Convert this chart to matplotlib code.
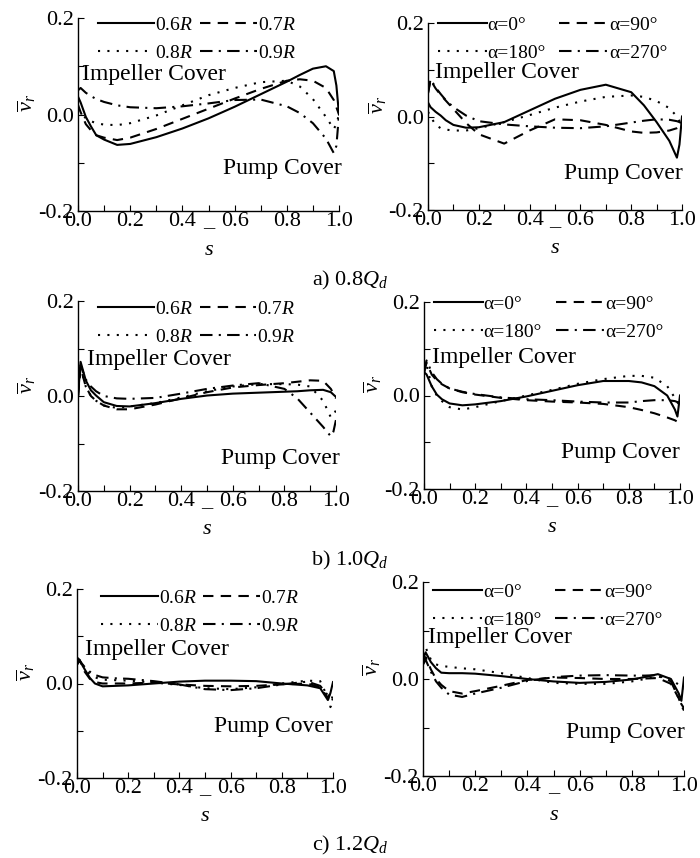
import matplotlib
matplotlib.use("Agg")
import matplotlib.pyplot as plt

plt.rcParams['font.family'] = ['Liberation Serif', 'DejaVu Serif']
plt.rcParams['mathtext.fontset'] = 'custom'
plt.rcParams['mathtext.rm'] = 'Liberation Serif'
plt.rcParams['mathtext.it'] = 'Liberation Serif:italic'
plt.rcParams['mathtext.bf'] = 'Liberation Serif:bold'

# ---------------- data ----------------
s_pos = [0, 0.01, 0.03, 0.05, 0.07, 0.1, 0.15, 0.2, 0.3, 0.4, 0.5, 0.6, 0.7,
         0.8, 0.85, 0.9, 0.95, 0.98, 0.99, 1.0]

radial_labels = ["0.6$R$", "0.7$R$", "0.8$R$", "0.9$R$"]
circ_labels = ["α=0°", "α=90°", "α=180°", "α=270°"]
case_labels = ["a) 0.8$Q_d$", "b) 1.0$Q_d$", "c) 1.2$Q_d$"]

x_ticks = [0.0, 0.2, 0.4, 0.5, 0.6, 0.8, 1.0]
x_ticklabels = ["0.0", "0.2", "0.4", "_", "0.6", "0.8", "1.0"]
y_ticks = [-0.2, 0.0, 0.2]
y_ticklabels = ["-0.2", "0.0", "0.2"]

# 0.8 Qd, radial positions
q08_r06 = [0.037, 0.025, -0.005, -0.025, -0.043, -0.052, -0.063, -0.061, -0.047, -0.029, -0.008, 0.016, 0.042, 0.068, 0.082, 0.095, 0.100, 0.090, 0.060, 0.0]
q08_r07 = [0.020, 0.005, -0.020, -0.033, -0.043, -0.048, -0.053, -0.048, -0.030, -0.009, 0.012, 0.033, 0.053, 0.070, 0.073, 0.070, 0.055, 0.030, 0.015, 0.0]
q08_r08 = [0.010, 0.005, -0.008, -0.014, -0.018, -0.021, -0.022, -0.018, -0.002, 0.019, 0.040, 0.055, 0.067, 0.070, 0.058, 0.032, -0.005, -0.030, -0.020, 0.0]
q08_r09 = [0.050, 0.055, 0.045, 0.038, 0.032, 0.026, 0.019, 0.015, 0.013, 0.017, 0.023, 0.030, 0.031, 0.017, 0.003, -0.018, -0.050, -0.080, -0.065, 0.0]
# 0.8 Qd, circumferential positions
q08_a0 = [0.030, 0.020, 0.010, 0.002, -0.008, -0.018, -0.024, -0.023, -0.012, 0.013, 0.038, 0.057, 0.068, 0.052, 0.024, -0.012, -0.052, -0.088, -0.060, 0.0]
q08_a90 = [0.050, 0.078, 0.060, 0.046, 0.034, 0.016, -0.014, -0.038, -0.058, -0.030, -0.006, -0.008, -0.018, -0.032, -0.035, -0.034, -0.030, -0.025, -0.022, -0.020]
q08_a180 = [0.010, 0.0, -0.018, -0.025, -0.028, -0.030, -0.030, -0.025, -0.012, 0.003, 0.019, 0.032, 0.042, 0.045, 0.042, 0.033, 0.018, 0.0, -0.010, -0.020]
q08_a270 = [0.050, 0.080, 0.062, 0.048, 0.035, 0.020, 0.002, -0.010, -0.017, -0.021, -0.024, -0.025, -0.021, -0.013, -0.009, -0.006, -0.007, -0.010, -0.012, -0.015]

# 1.0 Qd, radial positions
q10_r06 = [0.0, 0.072, 0.033, 0.012, 0.001, -0.013, -0.021, -0.022, -0.015, -0.006, 0.001, 0.005, 0.007, 0.009, 0.010, 0.012, 0.013, 0.008, 0.003, -0.002]
q10_r07 = [0.0, 0.060, 0.020, 0.0, -0.010, -0.020, -0.028, -0.028, -0.018, -0.005, 0.008, 0.018, 0.023, 0.027, 0.030, 0.033, 0.032, 0.015, 0.005, -0.005]
q10_r08 = [0.0, 0.060, 0.020, 0.0, -0.010, -0.020, -0.025, -0.022, -0.015, -0.003, 0.010, 0.020, 0.025, 0.025, 0.024, 0.020, -0.010, -0.045, -0.040, -0.030]
q10_r09 = [0.0, 0.065, 0.035, 0.020, 0.010, 0.0, -0.005, -0.006, -0.004, 0.005, 0.015, 0.022, 0.027, 0.015, -0.005, -0.035, -0.065, -0.085, -0.075, -0.050]
# 1.0 Qd, circumferential positions
q10_a0 = [0.050, 0.045, 0.020, 0.002, -0.008, -0.017, -0.021, -0.019, -0.012, -0.002, 0.010, 0.022, 0.031, 0.031, 0.028, 0.020, 0.0, -0.030, -0.045, 0.0]
q10_a90 = [0.050, 0.070, 0.045, 0.032, 0.024, 0.015, 0.007, 0.002, -0.005, -0.010, -0.013, -0.015, -0.018, -0.025, -0.031, -0.038, -0.047, -0.053, -0.056, -0.058]
q10_a180 = [0.050, 0.065, 0.020, 0.0, -0.012, -0.025, -0.030, -0.025, -0.012, 0.0, 0.012, 0.025, 0.035, 0.042, 0.042, 0.038, 0.020, -0.005, -0.015, -0.020]
q10_a270 = [0.050, 0.075, 0.050, 0.035, 0.025, 0.015, 0.008, 0.003, -0.004, -0.008, -0.010, -0.013, -0.015, -0.015, -0.012, -0.010, -0.010, -0.012, -0.014, -0.015]

# 1.2 Qd, radial positions
q12_r06 = [0.055, 0.050, 0.030, 0.012, 0.0, -0.006, -0.005, -0.004, 0.0, 0.004, 0.006, 0.006, 0.005, 0.0, -0.002, -0.004, -0.010, -0.035, -0.020, 0.003]
q12_r07 = [0.040, 0.050, 0.025, 0.010, 0.003, 0.0, 0.0, 0.0, 0.002, -0.002, -0.005, -0.006, -0.005, -0.002, -0.001, 0.0, -0.008, -0.030, -0.020, -0.010]
q12_r08 = [0.045, 0.050, 0.030, 0.020, 0.013, 0.008, 0.007, 0.006, 0.002, -0.003, -0.010, -0.012, -0.008, 0.0, 0.003, 0.006, 0.005, -0.030, -0.050, -0.020]
q12_r09 = [0.040, 0.048, 0.035, 0.025, 0.018, 0.013, 0.011, 0.010, 0.005, -0.002, -0.012, -0.014, -0.010, -0.002, 0.001, 0.004, -0.005, -0.025, -0.030, -0.035]
# 1.2 Qd, circumferential positions
q12_a0 = [0.040, 0.055, 0.035, 0.022, 0.013, 0.012, 0.012, 0.011, 0.006, 0.0, -0.005, -0.008, -0.006, -0.001, 0.004, 0.010, 0.0, -0.030, -0.045, 0.003]
q12_a90 = [0.030, 0.045, 0.020, 0.0, -0.012, -0.025, -0.030, -0.025, -0.014, -0.002, 0.003, 0.002, 0.0, 0.0, 0.001, 0.002, -0.010, -0.040, -0.055, -0.065]
q12_a180 = [0.050, 0.065, 0.040, 0.030, 0.027, 0.025, 0.022, 0.020, 0.012, 0.002, -0.008, -0.010, -0.010, -0.005, 0.0, 0.005, 0.0, -0.012, -0.017, -0.020]
q12_a270 = [0.030, 0.040, 0.015, -0.005, -0.018, -0.032, -0.037, -0.030, -0.018, -0.004, 0.004, 0.007, 0.008, 0.007, 0.007, 0.008, -0.005, -0.040, -0.052, -0.060]

panels = [
    [(q08_r06, q08_r07, q08_r08, q08_r09), (q08_a0, q08_a90, q08_a180, q08_a270)],
    [(q10_r06, q10_r07, q10_r08, q10_r09), (q10_a0, q10_a90, q10_a180, q10_a270)],
    [(q12_r06, q12_r07, q12_r08, q12_r09), (q12_a0, q12_a90, q12_a180, q12_a270)],
]

# ---------------- layout / style ----------------
W, H = 700, 858
fig = plt.figure(figsize=(7, 8.58), dpi=100)

# axes boxes in pixels: (left, top, right, bottom)
boxes = [
    [(78, 18, 339, 211), (428, 23, 682, 210)],
    [(78, 301, 336, 491), (424, 302, 680, 489)],
    [(77, 589, 333, 778), (423, 582, 684, 776)],
]
# legend anchor (axes fraction)
leg_anchor = [[(0.077, 1.010), (0.039, 1.037)],
              [(0.077, 1.005), (0.039, 1.037)],
              [(0.095, 1.000), (0.039, 0.995)]]
# annotation positions (data coords): impeller (x_left, y), pump (x_right, y)
imp_pos = [[(0.015, 0.082), (0.028, 0.095)],
           [(0.035, 0.076), (0.031, 0.082)],
           [(0.031, 0.071), (0.019, 0.085)]]
pump_pos = [[(1.01, -0.111), (1.004, -0.121)],
            [(1.016, -0.131), (1.0, -0.121)],
            [(1.0, -0.092), (1.004, -0.111)]]
caption_y = [280, 560, 845]

styles = ['-', (0, (5, 3.5)), (0, (1, 3.5)), (0, (6, 3, 1, 3))]
order = [0, 2, 1, 3]   # row-wise legend filling

for r in range(3):
    for c in range(2):
        l, t, rr, b = boxes[r][c]
        ax = fig.add_axes([l / W, 1 - b / H, (rr - l) / W, (b - t) / H])
        labels = radial_labels if c == 0 else circ_labels
        handles = []
        for k in range(4):
            h, = ax.plot(s_pos, panels[r][c][k], color='black', lw=1.5,
                         linestyle=styles[k], label=labels[k])
            handles.append(h)
        ax.set_xlim(0, 1.0)
        ax.set_ylim(-0.2, 0.2)
        for sp in ['top', 'right']:
            ax.spines[sp].set_visible(False)
        for sp in ['left', 'bottom']:
            ax.spines[sp].set_linewidth(1.0)
        ax.set_xticks([i / 10 for i in range(11)], minor=True)
        ax.set_xticks(x_ticks)
        ax.set_xticklabels(x_ticklabels)
        ax.set_yticks([-0.1, 0.1], minor=True)
        ax.set_yticks(y_ticks)
        ax.set_yticklabels(y_ticklabels)
        ax.tick_params(which='both', direction='in', length=4, width=0.8)
        ax.tick_params(axis='x', which='major', pad=1, labelsize=16)
        ax.tick_params(axis='y', which='major', pad=3, labelsize=16)
        ax.set_xlabel('$s$', fontsize=16)
        ax.xaxis.set_label_coords(0.5, -0.155)
        ax.set_ylabel(r'$\overline{v}_r$', fontsize=16)
        ax.yaxis.set_label_coords(-0.155, 0.56)
        hs = [handles[i] for i in order]
        ls = [labels[i] for i in order]
        if c == 0:
            ax.legend(hs, ls, ncol=2, frameon=False, loc='upper left',
                      bbox_to_anchor=leg_anchor[r][c], fontsize=14,
                      handlelength=2.9, handletextpad=0.05,
                      columnspacing=0.35, labelspacing=0.55,
                      borderpad=0, borderaxespad=0)
        else:
            ax.legend(hs, ls, ncol=2, frameon=False, loc='upper left',
                      bbox_to_anchor=leg_anchor[r][c], fontsize=14,
                      handlelength=2.5, handletextpad=0.05,
                      columnspacing=0.7, labelspacing=0.55,
                      borderpad=0, borderaxespad=0)
        ix, iy = imp_pos[r][c]
        ax.text(ix, iy, 'Impeller Cover', fontsize=17, ha='left', va='center')
        px, py = pump_pos[r][c]
        ax.text(px, py, 'Pump Cover', fontsize=17, ha='right', va='center',
                clip_on=False)
    fig.text(0.5, 1 - caption_y[r] / H, case_labels[r], fontsize=16,
             ha='center', va='center')

fig.savefig('out.png', dpi=100)
